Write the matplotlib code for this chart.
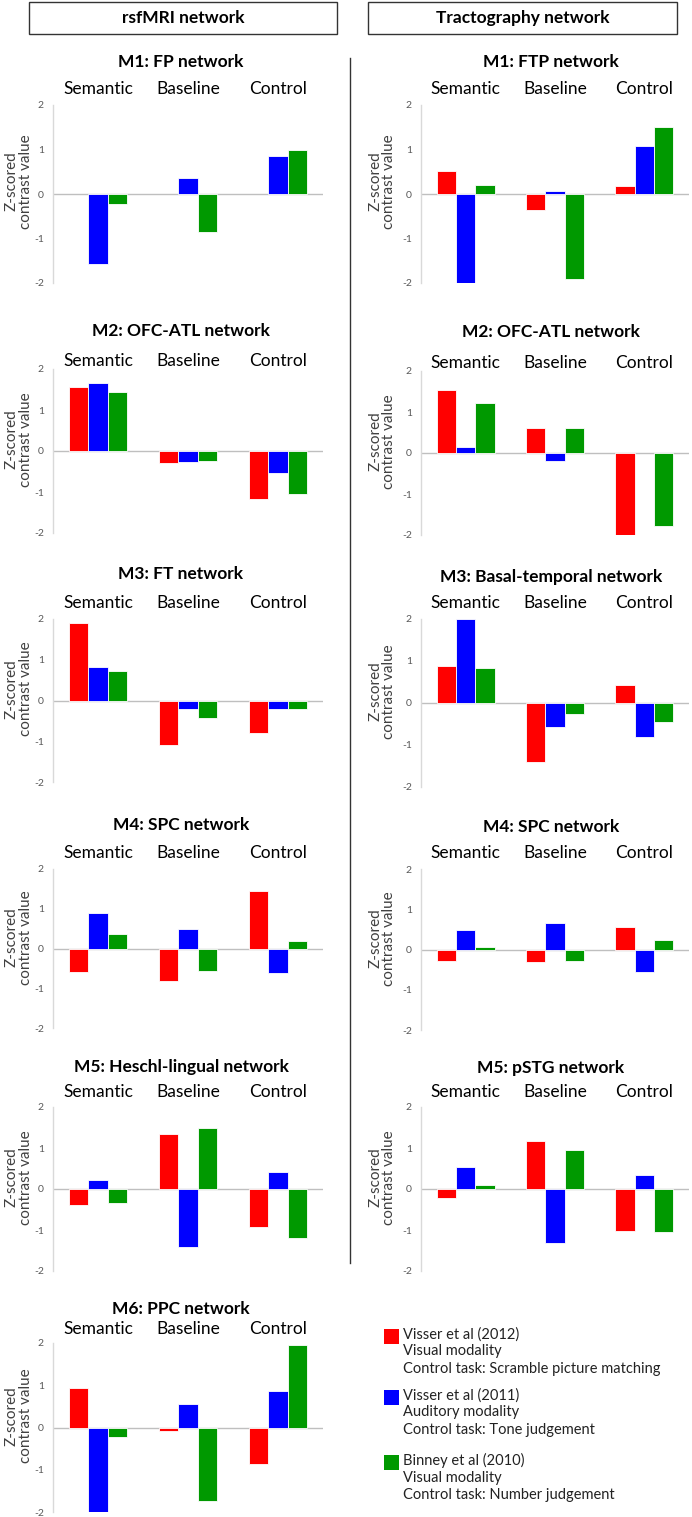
import numpy as np
import matplotlib
matplotlib.use("Agg")
import matplotlib.pyplot as plt
from matplotlib.patches import Rectangle
from matplotlib.lines import Line2D

plt.rcParams['font.family'] = ['Lato', 'DejaVu Sans']

nan = np.nan
categories = ['Semantic', 'Baseline', 'Control']
studies = ['Visser et al (2012)\nVisual modality\nControl task: Scramble picture matching',
           'Visser et al (2011)\nAuditory modality\nControl task: Tone judgement',
           'Binney et al (2010)\nVisual modality\nControl task: Number judgement']
colors = ['#ff0000', '#0000ff', '#009900']

# rsfMRI networks (left column); cols = Semantic, Baseline, Control
rs_titles = ['M1: FP network', 'M2: OFC-ATL network', 'M3: FT network',
             'M4: SPC network', 'M5: Heschl-lingual network', 'M6: PPC network']
rs_red = [[nan, nan, nan], [1.55, -0.30, -1.18], [1.91, -1.09, -0.79],
          [-0.60, -0.81, 1.44], [-0.39, 1.33, -0.92], [0.94, -0.09, -0.86]]
rs_blue = [[-1.58, 0.36, 0.86], [1.66, -0.26, -0.54], [0.81, -0.20, -0.20],
           [0.89, 0.48, -0.61], [0.23, -1.42, 0.41], [-2.0, 0.56, 0.86]]
rs_green = [[-0.22, -0.86, 0.98], [1.44, -0.24, -1.06], [0.73, -0.43, -0.21],
            [0.36, -0.56, 0.18], [-0.33, 1.50, -1.20], [-0.23, -1.74, 1.95]]

# tractography networks (right column)
tr_titles = ['M1: FTP network', 'M2: OFC-ATL network', 'M3: Basal-temporal network',
             'M4: SPC network', 'M5: pSTG network']
tr_red = [[0.51, -0.37, 0.17], [1.54, 0.61, -2.0], [0.88, -1.40, 0.42],
          [-0.28, -0.31, 0.55], [-0.21, 1.18, -1.02]]
tr_blue = [[-2.0, 0.07, 1.08], [0.15, -0.20, nan], [2.0, -0.57, -0.82],
           [0.49, 0.65, -0.56], [0.54, -1.32, 0.34]]
tr_green = [[0.21, -1.92, 1.50], [1.22, 0.61, -1.78], [0.83, -0.26, -0.46],
            [0.07, -0.28, 0.24], [0.09, 0.94, -1.04]]

W, H = 692, 1517
fig = plt.figure(figsize=(W / 100, H / 100), dpi=100)


def fx(px):
    return px / W


def fy(py):
    return 1 - py / H


def panel(x0, x1, ytop, ybot, title, title_x, title_y, cat_y, red, blue, green, lab_x):
    ax = fig.add_axes([fx(x0), fy(ybot), fx(x1) - fx(x0), (ybot - ytop) / H])
    x = np.arange(3) + 0.5
    w = 0.217
    for k, vals in enumerate([red, blue, green]):
        ax.bar(x + (k - 1) * w, vals, width=w, color=colors[k],
               edgecolor='white', linewidth=0.6, zorder=3)
    ax.axhline(0, color='#bfbfbf', linewidth=1.0, zorder=2)
    ax.set_xlim(0, 3)
    ax.set_ylim(-2, 2)
    ax.set_yticks([-2, -1, 0, 1, 2])
    ax.set_yticklabels(['-2', '-1', '0', '1', '2'])
    ax.tick_params(axis='y', length=0, labelsize=7.5, labelcolor='#595959', pad=6.5)
    ax.set_xticks([])
    for s in ['top', 'right', 'bottom']:
        ax.spines[s].set_visible(False)
    ax.spines['left'].set_color('#d9d9d9')
    ax.spines['left'].set_linewidth(1.0)
    ax.patch.set_alpha(0)
    ax.set_ylabel('Z-scored\ncontrast value', fontsize=11, color='#404040', linespacing=1.0)
    ax.yaxis.set_label_coords(lab_x, 0.57)
    fig.text(fx(title_x), fy(title_y), title, ha='center', va='center',
             fontsize=12.5, fontweight='bold', color='black')
    for i, c in enumerate(categories):
        px = x0 + (x1 - x0) * (i + 0.5) / 3
        fig.text(fx(px), fy(cat_y), c, ha='center', va='center', fontsize=12.5, color='black')


left_rows = [(105, 283), (369, 533), (619, 782), (869, 1028), (1107, 1271), (1343, 1512)]
left_title_y = [62, 331, 574, 825, 1067, 1309]
left_cat_y = [89, 361, 603, 853, 1092, 1329]
right_rows = [(105, 283), (371, 535), (619, 787), (869, 1030), (1107, 1271)]
right_title_y = [62, 332, 577, 827, 1068]
right_cat_y = [89, 363, 603, 853, 1092]

for i in range(6):
    panel(53, 323, left_rows[i][0], left_rows[i][1], rs_titles[i], 181,
          left_title_y[i], left_cat_y[i], rs_red[i], rs_blue[i], rs_green[i], -0.074)

for i in range(5):
    panel(421, 689, right_rows[i][0], right_rows[i][1], tr_titles[i], 551,
          right_title_y[i], right_cat_y[i], tr_red[i], tr_blue[i], tr_green[i], -0.093)

# header boxes
for (bx0, bx1, txt) in [(29, 337, 'rsfMRI network'), (368, 677, 'Tractography network')]:
    fig.add_artist(Rectangle((fx(bx0), fy(34)), fx(bx1) - fx(bx0), 32 / H,
                             transform=fig.transFigure, facecolor='white',
                             edgecolor='#333333', linewidth=1.0))
    fig.text(fx((bx0 + bx1) / 2), fy(18), txt, ha='center', va='center',
             fontsize=12.5, fontweight='bold')

# divider
fig.add_artist(Line2D([fx(349.5), fx(349.5)], [fy(58), fy(1263)],
                      transform=fig.transFigure, color='#333333', linewidth=1.0))

# legend
leg_y = [1337, 1398, 1463]
for k in range(3):
    fig.add_artist(Rectangle((fx(384), fy(leg_y[k] + 7)), 15 / W, 15 / H,
                             transform=fig.transFigure, facecolor=colors[k], edgecolor='none'))
    fig.text(fx(403), fy(leg_y[k] - 10), studies[k], ha='left', va='top',
             fontsize=10.5, color='#222222', linespacing=1.28)

fig.savefig('out.png', dpi=100)
